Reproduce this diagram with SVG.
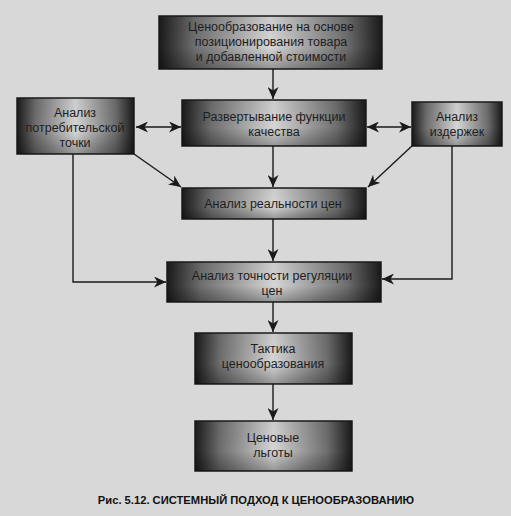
<svg xmlns="http://www.w3.org/2000/svg" width="511" height="516" viewBox="0 0 511 516">
<defs>
<linearGradient id="gh" x1="0" y1="0" x2="1" y2="0">
<stop offset="0" stop-color="#1a1a1a"/>
<stop offset="0.16" stop-color="#6e6e6e"/>
<stop offset="0.5" stop-color="#d6d6d6"/>
<stop offset="0.84" stop-color="#6e6e6e"/>
<stop offset="1" stop-color="#1a1a1a"/>
</linearGradient>
<linearGradient id="gv" x1="0" y1="0" x2="0" y2="1">
<stop offset="0" stop-color="#000" stop-opacity="0.05"/>
<stop offset="0.6" stop-color="#000" stop-opacity="0"/>
<stop offset="1" stop-color="#000" stop-opacity="0.3"/>
</linearGradient>
<marker id="ah" markerWidth="13" markerHeight="11" refX="12" refY="5.5" orient="auto" markerUnits="userSpaceOnUse">
<path d="M0,0 L12,5.5 L0,11 L3.5,5.5 Z" fill="#1a1a1a"/>
</marker>
<marker id="as" markerWidth="13" markerHeight="11" refX="1" refY="5.5" orient="auto" markerUnits="userSpaceOnUse">
<path d="M13,0 L1,5.5 L13,11 L9.5,5.5 Z" fill="#1a1a1a"/>
</marker>
</defs>
<style>
.box{fill:url(#gh);stroke:#1a1a1a;stroke-width:1.5}
.sh{fill:url(#gv)}
.t{font-family:"Liberation Sans",Arial,sans-serif;font-size:12.5px;fill:#1e1e1e;text-anchor:middle}
.c{stroke:#1a1a1a;stroke-width:1.4;fill:none}
.cap{font-family:"Liberation Sans",Arial,sans-serif;font-size:11.2px;font-weight:bold;fill:#111;text-anchor:middle}
</style>
<rect width="511" height="516" fill="#d8d8d8"/>
<g id="connectors">
<path class="c" d="M273,69 V99" marker-end="url(#ah)"/>
<path class="c" d="M136,127 H181" marker-start="url(#as)" marker-end="url(#ah)"/>
<path class="c" d="M367,127 H411" marker-start="url(#as)" marker-end="url(#ah)"/>
<path class="c" d="M273,146 V187" marker-end="url(#ah)"/>
<path class="c" d="M134,154 L181,187" marker-end="url(#ah)"/>
<path class="c" d="M413,145 L368,187" marker-end="url(#ah)"/>
<path class="c" d="M273,219 V261" marker-end="url(#ah)"/>
<path class="c" d="M73,154 V282 H166" marker-end="url(#ah)"/>
<path class="c" d="M452,146 V279 H382" marker-end="url(#ah)"/>
<path class="c" d="M273,302 V332" marker-end="url(#ah)"/>
<path class="c" d="M273,384 V420" marker-end="url(#ah)"/>
</g>
<g id="n1">
<rect class="box" x="159" y="16" width="223" height="53"/><rect class="sh" x="159" y="16" width="223" height="53"/>
<text class="t" x="271" y="31">Ценообразование на основе</text>
<text class="t" x="271" y="46">позиционирования товара</text>
<text class="t" x="271" y="61">и добавленной стоимости</text>
</g>
<g id="n2">
<rect class="box" x="182" y="100" width="184" height="46"/><rect class="sh" x="182" y="100" width="184" height="46"/>
<text class="t" x="274" y="121">Развертывание функции</text>
<text class="t" x="274" y="136">качества</text>
</g>
<g id="n3">
<rect class="box" x="17" y="98" width="117" height="56"/><rect class="sh" x="17" y="98" width="117" height="56"/>
<text class="t" x="75" y="117">Анализ</text>
<text class="t" x="75" y="132">потребительской</text>
<text class="t" x="75" y="147">точки</text>
</g>
<g id="n4">
<rect class="box" x="412" y="102" width="90" height="44"/><rect class="sh" x="412" y="102" width="90" height="44"/>
<text class="t" x="457" y="121">Анализ</text>
<text class="t" x="457" y="136">издержек</text>
</g>
<g id="n5">
<rect class="box" x="182" y="188" width="184" height="31"/><rect class="sh" x="182" y="188" width="184" height="31"/>
<text class="t" x="273" y="208">Анализ реальности цен</text>
</g>
<g id="n6">
<rect class="box" x="167" y="262" width="214" height="40"/><rect class="sh" x="167" y="262" width="214" height="40"/>
<text class="t" x="272" y="280">Анализ точности регуляции</text>
<text class="t" x="272" y="295">цен</text>
</g>
<g id="n7">
<rect class="box" x="195" y="333" width="157" height="51"/><rect class="sh" x="195" y="333" width="157" height="51"/>
<text class="t" x="273" y="353">Тактика</text>
<text class="t" x="273" y="368">ценообразования</text>
</g>
<g id="n8">
<rect class="box" x="195" y="421" width="157" height="50"/><rect class="sh" x="195" y="421" width="157" height="50"/>
<text class="t" x="273" y="442">Ценовые</text>
<text class="t" x="273" y="457">льготы</text>
</g>
<text class="cap" x="256" y="504">Рис. 5.12. СИСТЕМНЫЙ ПОДХОД К ЦЕНООБРАЗОВАНИЮ</text>
</svg>
